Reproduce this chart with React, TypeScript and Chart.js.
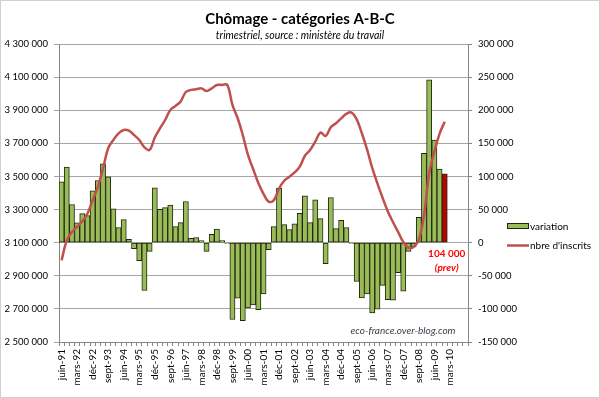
import { useEffect, useRef } from 'react';
import { Chart, registerables } from 'chart.js';

Chart.register(...registerables);

const categories = [
  'juin-91', 'sept-91', 'déc-91',
  'mars-92', 'juin-92', 'sept-92', 'déc-92',
  'mars-93', 'juin-93', 'sept-93', 'déc-93',
  'mars-94', 'juin-94', 'sept-94', 'déc-94',
  'mars-95', 'juin-95', 'sept-95', 'déc-95',
  'mars-96', 'juin-96', 'sept-96', 'déc-96',
  'mars-97', 'juin-97', 'sept-97', 'déc-97',
  'mars-98', 'juin-98', 'sept-98', 'déc-98',
  'mars-99', 'juin-99', 'sept-99', 'déc-99',
  'mars-00', 'juin-00', 'sept-00', 'déc-00',
  'mars-01', 'juin-01', 'sept-01', 'déc-01',
  'mars-02', 'juin-02', 'sept-02', 'déc-02',
  'mars-03', 'juin-03', 'sept-03', 'déc-03',
  'mars-04', 'juin-04', 'sept-04', 'déc-04',
  'mars-05', 'juin-05', 'sept-05', 'déc-05',
  'mars-06', 'juin-06', 'sept-06', 'déc-06',
  'mars-07', 'juin-07', 'sept-07', 'déc-07',
  'mars-08', 'juin-08', 'sept-08', 'déc-08',
  'mars-09', 'juin-09', 'sept-09', 'déc-09',
  'mars-10', 'juin-10', 'sept-10', 'déc-10',
];

const tickLabels = [
  'juin-91', 'mars-92', 'déc-92', 'sept-93', 'juin-94', 'mars-95', 'déc-95',
  'sept-96', 'juin-97', 'mars-98', 'déc-98', 'sept-99', 'juin-00', 'mars-01',
  'déc-01', 'sept-02', 'juin-03', 'mars-04', 'déc-04', 'sept-05', 'juin-06',
  'mars-07', 'déc-07', 'sept-08', 'juin-09', 'mars-10',
];

// quarterly variation (right axis)
const variation = [
  91900, 114000, 57600, 29800, 43900, 40900, 78300, 93900, 119000, 99500,
  51000, 22700, 34800, 5000, -9100, -27300, -72200, -13100, 82800, 50500,
  53000, 56600, 24200, 30300, 62100, 6600, 7600, 3000, -13100, 12600,
  20700, 3000, -1000, -116000, -83800, -117700, -98500, -93900, -101000, -77300,
  -10600, 24200, 82300, 27300, 19700, 28300, 44400, 70700, 30300, 64600,
  36400, -31800, 68200, 21200, 33800, 22700, -1000, -58600, -83300, -77300,
  -106000, -100500, -64600, -85900, -86900, -45400, -73200, -13100, -6600, 38400,
  134800, 245900, 155000, 111100, 104000,
];

// number of registered job seekers (left axis)
const inscrits = [
  2993000, 3114000, 3165000, 3195000, 3229000, 3276000, 3357000, 3437000, 3548000, 3670000,
  3720000, 3760000, 3781000, 3777000, 3750000, 3720000, 3676000, 3660000, 3735000, 3790000,
  3841000, 3902000, 3926000, 3953000, 4010000, 4023000, 4027000, 4032000, 4016000, 4032000,
  4052000, 4053000, 4053000, 3932000, 3853000, 3750000, 3630000, 3545000, 3460000, 3395000,
  3348000, 3357000, 3427000, 3474000, 3498000, 3524000, 3559000, 3625000, 3660000, 3710000,
  3765000, 3744000, 3797000, 3821000, 3851000, 3878000, 3886000, 3845000, 3761000, 3664000,
  3552000, 3458000, 3371000, 3290000, 3225000, 3165000, 3104000, 3070000, 3074000, 3118000,
  3266000, 3518000, 3649000, 3757000, 3831000,
];

const titleText = 'Chômage - catégories A-B-C';
const subtitleText = 'trimestriel, source : ministère du travail';
const prevValueText = '104 000';
const prevNoteText = '(prev)';
const watermarkText = 'eco-france.over-blog.com';
const barLabel = 'variation';
const lineLabel = "nbre d'inscrits";

const FONT = 'Lato, "Noto Sans", sans-serif';

function fmt(v: number | string): string {
  const n = Number(v);
  const s = Math.abs(n).toString().replace(/\B(?=(\d{3})+(?!\d))/g, ' ');
  return (n < 0 ? '-' : '') + s;
}

const textPlugin = {
  id: 'texts',
  beforeDraw(chart: any) {
    const c = chart.ctx;
    c.save();
    c.fillStyle = '#ffffff';
    c.fillRect(0, 0, chart.width, chart.height);
    c.strokeStyle = '#d0d0d0';
    c.lineWidth = 1;
    c.strokeRect(0.5, 0.5, chart.width - 1, chart.height - 1);
    c.restore();
  },
  afterDraw(chart: any) {
    const c = chart.ctx;
    c.save();
    c.textBaseline = 'middle';
    c.textAlign = 'center';
    c.fillStyle = '#000000';
    c.font = `bold 15px ${FONT}`;
    c.fillText(titleText, 300, 19);
    c.font = `italic 10.5px ${FONT}`;
    c.fillText(subtitleText, 300, 36);

    // legend
    c.fillStyle = '#9BBB59';
    c.fillRect(507, 223, 22, 6);
    c.strokeStyle = '#1e2a0e';
    c.lineWidth = 1;
    c.strokeRect(507.5, 223.5, 21, 5);
    c.strokeStyle = '#C0504D';
    c.lineWidth = 2.5;
    c.beginPath();
    c.moveTo(507, 245.5);
    c.lineTo(529, 245.5);
    c.stroke();
    c.fillStyle = '#000000';
    c.textAlign = 'left';
    c.font = `10px ${FONT}`;
    c.fillText(barLabel, 530, 226.5);
    c.fillText(lineLabel, 530, 246);

    // prev annotation
    const xs = chart.scales.x;
    const y1 = chart.scales.y1;
    const px = xs.getPixelForValue(variation.length - 1) + 2;
    const py = y1.getPixelForValue(0);
    c.textAlign = 'center';
    c.fillStyle = '#FF0000';
    c.font = `bold 10px ${FONT}`;
    c.fillText(prevValueText, px, py + 11);
    c.font = `italic bold 10px ${FONT}`;
    c.fillText(prevNoteText, px, py + 25);

    // watermark
    c.fillStyle = '#3f3a48';
    c.font = `italic 10px ${FONT}`;
    c.fillText(watermarkText, 403, 331);
    c.restore();
  },
};

export default function App() {
  const ref = useRef<HTMLCanvasElement>(null);
  useEffect(() => {
    const canvas = ref.current;
    if (!canvas) return;
    const prevIndex = variation.length - 1;
    const chart = new Chart(canvas, {
      type: 'bar',
      data: {
        labels: categories,
        datasets: [
          {
            type: 'line',
            label: lineLabel,
            data: inscrits,
            yAxisID: 'y',
            borderColor: '#C0504D',
            borderWidth: 2.5,
            pointRadius: 0,
            tension: 0.4,
            fill: false,
            order: 0,
          } as any,
          {
            type: 'bar',
            label: barLabel,
            data: variation,
            yAxisID: 'y1',
            backgroundColor: (ctx: any) => (ctx.dataIndex === prevIndex ? '#C00000' : '#9BBB59'),
            borderColor: '#1e2a0e',
            borderWidth: 1,
            borderSkipped: false,
            barPercentage: 1,
            categoryPercentage: 1,
            order: 1,
          } as any,
        ],
      },
      options: {
        responsive: false,
        animation: false,
        devicePixelRatio: 1,
        layout: { padding: { top: 44, left: 0, right: 0, bottom: 0 } },
        plugins: {
          legend: { display: false },
          tooltip: { enabled: false },
          title: { display: false },
        },
        scales: {
          x: {
            grid: { drawOnChartArea: false, drawTicks: true, tickLength: 4, color: '#868686', offset: true },
            border: { color: '#868686' },
            ticks: {
              autoSkip: false,
              minRotation: 90,
              maxRotation: 90,
              padding: 3,
              color: '#000000',
              font: { family: FONT, size: 10 },
              callback: (_v: any, i: number) => (tickLabels.includes(categories[i]) ? categories[i] : ''),
            },
            afterFit: (s: any) => {
              s.height = 56;
            },
          },
          y: {
            position: 'left',
            min: 2500000,
            max: 4300000,
            ticks: {
              stepSize: 200000,
              callback: (v: any) => fmt(v),
              color: '#000000',
              padding: 6,
              font: { family: FONT, size: 9.5 },
            },
            grid: { color: '#a6a6a6', tickLength: 5 },
            border: { color: '#868686' },
            afterFit: (s: any) => {
              s.width = 59;
            },
          },
          y1: {
            position: 'right',
            min: -150000,
            max: 300000,
            ticks: {
              stepSize: 50000,
              callback: (v: any) => fmt(v),
              color: '#000000',
              padding: 6,
              font: { family: FONT, size: 9.5 },
            },
            grid: { drawOnChartArea: false, tickLength: 4, color: '#868686' },
            border: { color: '#868686' },
            afterFit: (s: any) => {
              s.width = 132;
            },
          },
        },
      } as any,
      plugins: [textPlugin],
    });
    return () => chart.destroy();
  }, []);
  return (
    <div style={{ position: 'absolute', left: 0, top: 0, width: 600, height: 398 }}>
      <canvas ref={ref} width={600} height={398} style={{ display: 'block' }} />
    </div>
  );
}
